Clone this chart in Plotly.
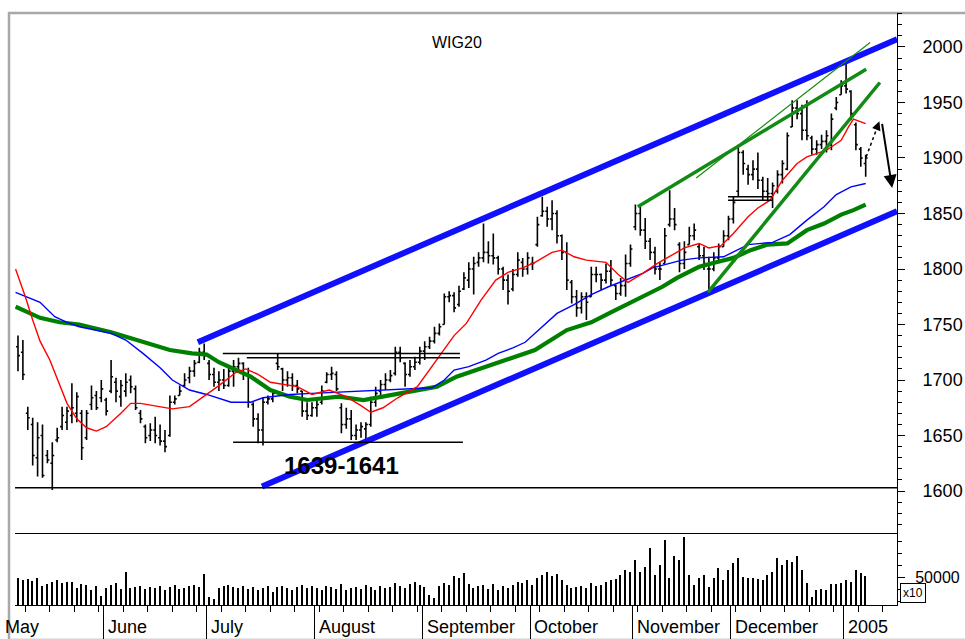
import plotly.graph_objects as go

# ---------------- data (trading-day index 0..173: mid-May 2004 .. early Jan 2005) -------------
opens = [1730,1725,1670,1660,1630,1650,1632,1625,1646,1658,1662,1668,1670,1670,1648,1678,1686,1684,
         1682,1690,1698,1685,1690,1700,1692,1670,1658,1650,1655,1648,1645,1650,1680,1686,1695,1702,1708,1716,1725,
         1715,1705,1698,1700,1695,1708,1712,1715,1705,1678,1665,1655,1680,1683,1715,1710,1700,1702,1695,1690,1672,1668,
         1675,1680,1698,1705,1705,1675,1660,1665,1650,1655,1656,1660,1680,1690,1696,1700,1706,1725,1715,1705,1712,1716,
         1726,1730,1735,1742,1750,1775,1776,1768,1782,1790,1800,1806,1810,1815,1812,1810,1800,1790,1782,1795,1806,1800,
         1805,1822,1848,1852,1845,1850,1830,1815,1788,1775,1765,1775,1775,1795,1795,1790,1798,1785,1778,1785,1805,
         1838,1850,1835,1825,1815,1800,1805,1840,1845,1822,1805,1822,1830,1820,1812,1800,1800,1810,1820,1830,
         1845,1870,1905,1890,1885,1890,1880,1870,1868,1870,1885,1890,1928,1945,1940,1925,1918,1908,1912,1915,1912,1945,1957,
         1965,1960,1930,1908,1895]
highs = [1740,1736,1676,1666,1662,1660,1637,1644,1657,1676,1676,1697,1689,1673,1673,1695,1690,1700,
         1684,1718,1702,1700,1706,1704,1695,1673,1660,1661,1667,1660,1655,1686,1686,1695,1706,1712,1718,1729,1733,
         1718,1711,1708,1710,1712,1718,1720,1716,1711,1680,1670,1684,1686,1690,1724,1711,1708,1706,1700,1690,1680,1680,
         1682,1695,1707,1712,1708,1679,1675,1673,1660,1662,1662,1685,1694,1700,1706,1709,1730,1730,1716,1718,1721,1730,
         1735,1739,1748,1751,1778,1780,1779,1785,1797,1806,1811,1815,1841,1825,1832,1812,1802,1795,1800,1815,1810,1815,
         1811,1847,1865,1856,1862,1853,1831,1824,1790,1781,1779,1779,1802,1802,1796,1805,1808,1786,1792,1813,1822,
         1858,1856,1846,1828,1820,1806,1837,1871,1855,1824,1825,1838,1841,1823,1820,1811,1815,1823,1835,1848,
         1865,1912,1907,1894,1898,1905,1883,1882,1878,1889,1898,1923,1952,1952,1948,1952,1920,1916,1921,1925,1940,1955,1970,
         1986,1961,1932,1910,1903]
lows = [1708,1700,1655,1623,1613,1612,1625,1601,1644,1655,1655,1661,1662,1628,1646,1673,1673,1680,
        1668,1688,1680,1676,1685,1688,1673,1661,1643,1645,1643,1641,1635,1649,1678,1686,1694,1697,1703,1715,1718,
        1700,1694,1690,1692,1694,1694,1709,1700,1675,1658,1643,1641,1678,1680,1709,1690,1694,1690,1688,1667,1664,1667,
        1667,1678,1697,1700,1690,1652,1656,1646,1646,1648,1646,1658,1676,1686,1691,1698,1704,1716,1694,1703,1709,1714,
        1718,1728,1733,1740,1750,1770,1761,1766,1781,1783,1777,1802,1806,1805,1804,1795,1781,1768,1780,1793,1793,1795,
        1799,1820,1847,1838,1835,1823,1808,1781,1769,1757,1760,1754,1775,1788,1781,1787,1785,1772,1776,1775,1802,
        1835,1830,1818,1808,1795,1790,1805,1838,1835,1797,1800,1822,1826,1808,1799,1779,1798,1808,1820,1826,
        1841,1865,1885,1876,1880,1872,1862,1862,1855,1868,1877,1889,1928,1935,1916,1916,1903,1903,1908,1905,1907,1943,1957,
        1958,1934,1907,1892,1883]
closes = [1722,1705,1666,1632,1648,1614,1628,1632,1648,1668,1672,1675,1685,1639,1670,1684,1675,1692,
          1672,1703,1690,1695,1698,1694,1675,1665,1648,1655,1650,1645,1640,1680,1683,1690,1700,1708,1715,1725,1722,
          1705,1698,1700,1695,1708,1712,1715,1705,1680,1665,1655,1680,1683,1688,1712,1700,1702,1695,1692,1672,1668,1675,
          1678,1690,1705,1706,1692,1660,1665,1650,1655,1658,1660,1680,1688,1696,1700,1704,1725,1720,1705,1712,1716,1726,
          1730,1735,1742,1748,1775,1776,1765,1780,1792,1800,1805,1810,1815,1812,1810,1800,1790,1780,1795,1808,1800,1810,
          1805,1840,1852,1845,1850,1830,1815,1790,1775,1765,1775,1770,1795,1795,1790,1798,1790,1778,1785,1805,1818,
          1850,1835,1825,1815,1800,1800,1830,1845,1840,1805,1815,1830,1835,1812,1805,1800,1810,1820,1830,1845,
          1860,1905,1895,1885,1890,1880,1870,1868,1875,1885,1895,1920,1945,1940,1925,1920,1908,1912,1915,1920,1935,1950,1965,
          1962,1940,1912,1900,1900]
volume = [49200,47500,48300,46700,49200,42500,44200,45800,47500,45000,45800,45800,40800,44200,43300,39200,42500,34200,
          40800,43300,45000,40000,54200,40800,41700,42500,40000,41700,40800,42500,39200,41700,43300,40000,40800,42500,43300,41700,52500,
          33300,31700,40800,42500,43300,41700,40800,42500,40000,41700,39200,40800,42500,37500,41700,42500,40800,39200,41700,43300,40800,42500,
          40800,39200,42500,41700,40000,44200,39200,40800,41700,40000,43300,41700,39200,42500,40800,41700,45000,42500,40800,44200,45800,43300,
          41700,35000,32500,42500,45000,43300,50800,49200,53300,44200,40800,42500,43300,40000,44200,39200,42500,40800,43300,45800,45000,47500,
          43300,49200,51700,54200,50800,52500,47500,43300,40800,41700,42500,40800,45000,42500,43300,45800,47500,48300,51700,55800,54200,
          64200,54200,58300,74200,51700,60000,80800,49200,67500,64200,83300,51700,43300,49200,51700,41700,49200,57500,47500,55800,
          61700,65800,50000,49200,49200,48300,47500,51700,54200,65800,60000,64200,62500,67500,55800,45000,33300,39200,40000,39200,44200,44200,45000,
          47500,45800,55800,53300,50800]
days = list(range(len(closes)))

red_x = [-0.5,1.5,3,4.5,6.5,8.5,10,12,14,16,18,21,23,25,27.5,31.5,35,38.5,41,44.5,46.5,49,51.5,57,60,63.5,67,70,72,74.5,
         77.5,81.5,85.5,89,91.5,94.5,97.5,100,103,105.5,109,111,113.5,116,120,122.5,124.5,127.5,130.5,133.5,136,139,141,
         143.5,146,149,151,153.5,156,159,161,165,168,169.5,170.5,173]
red_v = [1800,1775,1754,1735,1718,1695,1679,1665,1657,1654,1658,1670,1679,1679,1677,1674,1676,1687,1695,1707,1710,1705,
         1698,1694,1687,1691,1685,1677,1671,1675,1684,1694,1718,1740,1751,1772,1790,1797,1801,1806,1815,1817,1811,1808,
         1806,1795,1788,1796,1805,1813,1819,1823,1819,1821,1832,1847,1855,1862,1880,1895,1901,1907,1916,1928,1935,1931]
blue_x = [-0.5,4.5,7.5,10,12.5,15.5,19,22,25.5,29,31.5,35,38.5,43.5,47.5,50,55.5,60,69,74.5,79.5,84.5,87,89,92,95.5,98,
          101,103.5,105.5,110,113.5,117,120.5,124,127.5,129.5,132,135.5,139,144,149,154,157.5,161,164.5,167,170,173]
blue_v = [1779,1770,1757,1752,1748,1745,1742,1736,1724,1711,1700,1691,1687,1680,1680,1684,1687,1688,1690,1691,1692,1693,
          1700,1709,1712,1718,1724,1729,1734,1742,1760,1768,1777,1784,1790,1796,1801,1804,1808,1810,1811,1822,1824,1831,
          1844,1856,1867,1874,1877]
green_x = [-0.5,4.5,8.5,12.5,19,22,27,31,35.5,38.5,41,44.5,47.5,51.5,55.5,59,62,65.5,70.5,74,77.5,81.5,85.5,89.5,94,97.5,
           101,105.5,112,117,121,124.5,128,131.5,134.5,139,142.5,146,149.5,153,157,161,164.5,168,170.5,173]
green_v = [1766,1756,1752,1750,1743,1739,1732,1727,1724,1723,1716,1709,1703,1691,1685,1682,1683,1685,1682,1685,1688,1691,
           1694,1703,1710,1715,1720,1727,1745,1752,1761,1769,1777,1784,1792,1802,1806,1810,1817,1822,1823,1835,1841,1849,
           1853,1858]

month_labels = ["June", "July", "August", "September", "October", "November", "December", "2005"]
month_first_day = [18, 39, 61, 83, 105, 126, 146, 169]

# hand-drawn analysis lines (day index, price)
blue_channel = [(36.7, 1734, 179.4, 2007), (49.8, 1604, 179.4, 1852)]
green_lines_thick = [(126.5, 1856, 173.1, 1980), (140.8, 1779, 175.9, 1968)]
green_lines_thin = [(138.4, 1882, 173.9, 2004)]
level_lines = [(-0.6, 1603, 179.4, 1603), (41.8, 1724, 90.2, 1724), (46.7, 1720, 90.2, 1720),
               (43.9, 1644, 90.8, 1644), (144.9, 1865, 153.9, 1865), (144.9, 1862, 153.9, 1862)]

# ---------------- figure -------------
FONT = "Liberation Sans, Arial, sans-serif"
W, H = 965, 639
ML, MR, MT, MB = 15, 68, 13, 34
PW, PH = W - ML - MR, H - MT - MB
VOL_FRAC = 72 / PH
X_RANGE = [-0.61, 179.39]


def px_x(p):
    return (p - ML) / PW


def px_y(p):
    return (H - MB - p) / PH


fig = go.Figure()
fig.add_trace(go.Ohlc(x=days, open=opens, high=highs, low=lows, close=closes,
                      increasing=dict(line=dict(color="black", width=1.6)),
                      decreasing=dict(line=dict(color="black", width=1.6)),
                      tickwidth=0.4, hoverinfo="skip", xaxis="x", yaxis="y"))
fig.add_trace(go.Scatter(x=green_x, y=green_v, mode="lines", line=dict(color="#008000", width=4.2),
                         xaxis="x", yaxis="y", hoverinfo="skip"))
fig.add_trace(go.Scatter(x=blue_x, y=blue_v, mode="lines", line=dict(color="#0000ff", width=1.4),
                         xaxis="x", yaxis="y", hoverinfo="skip"))
fig.add_trace(go.Scatter(x=red_x, y=red_v, mode="lines", line=dict(color="#ff0000", width=1.4),
                         xaxis="x", yaxis="y", hoverinfo="skip"))
fig.add_trace(go.Bar(x=days, y=volume, width=0.32, marker=dict(color="black", line=dict(width=0)),
                     xaxis="x2", yaxis="y2", hoverinfo="skip"))

shapes = []
for x0, y0, x1, y1 in blue_channel:
    shapes.append(dict(type="line", xref="x", yref="y", x0=x0, y0=y0, x1=x1, y1=y1,
                       line=dict(color="#1010ff", width=6)))
for x0, y0, x1, y1 in green_lines_thick:
    shapes.append(dict(type="line", xref="x", yref="y", x0=x0, y0=y0, x1=x1, y1=y1,
                       line=dict(color="#138a13", width=3.5)))
for x0, y0, x1, y1 in green_lines_thin:
    shapes.append(dict(type="line", xref="x", yref="y", x0=x0, y0=y0, x1=x1, y1=y1,
                       line=dict(color="#138a13", width=1.2)))
for x0, y0, x1, y1 in level_lines:
    shapes.append(dict(type="line", xref="x", yref="y", x0=x0, y0=y0, x1=x1, y1=y1,
                       line=dict(color="black", width=1.5)))
# dotted arrow shaft
shapes.append(dict(type="line", xref="x", yref="y", x0=173.1, y0=1901, x1=175.3, y1=1927,
                   line=dict(color="black", width=1.5, dash="dot")))
# outer grey frame
shapes.append(dict(type="rect", xref="paper", yref="paper", x0=px_x(9), y0=px_y(640), x1=px_x(970), y1=px_y(13),
                   line=dict(color="#a8a8a8", width=2.5), fillcolor="rgba(0,0,0,0)", layer="below"))

annotations = [
    dict(text="WIG20", xref="paper", yref="paper", x=px_x(457), y=px_y(42), xanchor="center", yanchor="middle",
         showarrow=False, font=dict(family=FONT, size=16, color="black")),
    dict(text="<b>1639-1641</b>", xref="paper", yref="paper", x=px_x(341), y=px_y(465), xanchor="center",
         yanchor="middle", showarrow=False, font=dict(family=FONT, size=24, color="black")),
    dict(text="x10", xref="paper", yref="paper", x=px_x(913), y=px_y(593), xanchor="center", yanchor="middle",
         showarrow=False, font=dict(family=FONT, size=12, color="black"), bordercolor="black", borderwidth=1,
         borderpad=2, bgcolor="white"),
    dict(text="May", xref="paper", yref="paper", x=px_x(3), y=px_y(627), xanchor="left", yanchor="middle",
         showarrow=False, font=dict(family=FONT, size=18, color="black")),
    # solid arrow
    dict(text="", xref="x", yref="y", axref="x", ayref="y", x=178.4, y=1873, ax=176.3, ay=1932,
         showarrow=True, arrowhead=2, arrowsize=1.3, arrowwidth=2, arrowcolor="black"),
    # dotted arrow head
    dict(text="", xref="x", yref="y", axref="x", ayref="y", x=175.8, y=1933, ax=175.2, ay=1926,
         showarrow=True, arrowhead=2, arrowsize=1.1, arrowwidth=1.6, arrowcolor="black"),
]
for name, first in zip(month_labels, month_first_day):
    annotations.append(dict(text=name, xref="x", yref="paper", x=first - 0.5 + 0.5, y=px_y(627),
                            xanchor="left", yanchor="middle", showarrow=False,
                            font=dict(family=FONT, size=18, color="black")))

fig.update_layout(
    width=W, height=H, margin=dict(l=ML, r=MR, t=MT, b=MB, autoexpand=False),
    paper_bgcolor="white", plot_bgcolor="white", showlegend=False,
    font=dict(family=FONT, color="black"),
    shapes=shapes, annotations=annotations, bargap=0,
    xaxis=dict(domain=[0, 1], anchor="y", range=X_RANGE, showticklabels=False, ticks="",
               showline=True, linecolor="black", linewidth=1, showgrid=False, zeroline=False,
               rangeslider=dict(visible=False), automargin=False),
    xaxis2=dict(domain=[0, 1], anchor="y2", range=X_RANGE, showticklabels=False,
                tickmode="array", tickvals=[d - 0.5 for d in month_first_day],
                ticks="outside", ticklen=36, tickwidth=1, tickcolor="black",
                minor=dict(tickmode="linear", tick0=1.5, dtick=5, ticks="outside", ticklen=6,
                           tickcolor="black", tickwidth=1),
                showline=True, linecolor="black", linewidth=1, showgrid=False, zeroline=False,
                automargin=False),
    yaxis=dict(domain=[VOL_FRAC, 1], anchor="x", side="right", range=[1562.2, 2030.6],
               tick0=0, dtick=50, ticks="outside", ticklen=7, tickwidth=1, tickcolor="black",
               minor=dict(tick0=0, dtick=10, ticks="outside", ticklen=4, tickcolor="black", tickwidth=1),
               showline=True, linecolor="black", linewidth=1, showgrid=False, zeroline=False,
               tickfont=dict(family=FONT, size=18, color="black"), ticklabelstandoff=14, automargin=False),
    yaxis2=dict(domain=[0, VOL_FRAC], anchor="x2", side="right", range=[26667, 86667],
                tickmode="array", tickvals=[50000], ticktext=["50000"],
                ticks="outside", ticklen=7, tickwidth=1, tickcolor="black",
                minor=dict(tickmode="linear", tick0=0, dtick=10000, ticks="outside", ticklen=4,
                           tickcolor="black", tickwidth=1),
                showline=True, linecolor="black", linewidth=1, showgrid=False, zeroline=False,
                tickfont=dict(family=FONT, size=16, color="black"), ticklabelstandoff=7, automargin=False),
)

fig.write_html("out.html", config={"displayModeBar": False},
               post_script="document.body.style.margin='0px';")
